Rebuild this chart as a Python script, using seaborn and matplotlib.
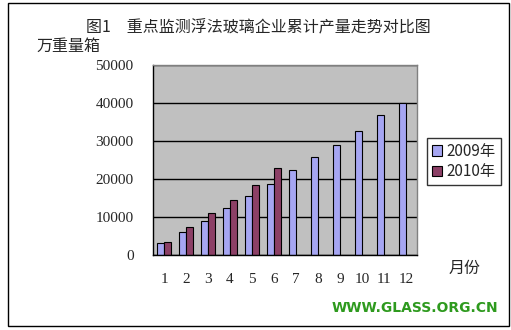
import numpy as np
import pandas as pd
import seaborn as sns
import matplotlib.pyplot as plt
from matplotlib.patches import Rectangle

months = [str(i) for i in range(1, 13)]
y2009 = [3060, 5960, 9050, 12300, 15460, 18800, 22320, 25670, 28840, 32600, 36750, 39920]
y2010 = [3500, 7280, 10980, 14400, 18360, 22850, np.nan, np.nan, np.nan, np.nan, np.nan, np.nan]
series = ["2009年", "2010年"]
yticks = [0, 10000, 20000, 30000, 40000, 50000]

df = pd.DataFrame({
    "month": months * 2,
    "value": y2009 + y2010,
    "year": [series[0]] * 12 + [series[1]] * 12,
})

sns.set_style("white")
plt.rcParams['font.family'] = ['Noto Sans CJK SC', 'DejaVu Sans']

fig = plt.figure(figsize=(5.11, 3.30), dpi=100)
fig.patch.set_facecolor("white")
# outer chart border
fig.add_artist(Rectangle((8 / 511, 4 / 330), 501 / 511, 323 / 330, transform=fig.transFigure,
                         fill=False, edgecolor="black", linewidth=1.0))

ax = fig.add_axes([153 / 511, 75 / 330, 264 / 511, 190 / 330])
ax.set_facecolor("#C0C0C0")
sns.barplot(data=df, x="month", y="value", hue="year", order=months, hue_order=series,
            palette=["#9999FF", "#993366"], width=0.6, edgecolor="black", linewidth=0.8,
            ax=ax, legend=True)
ax.set_ylim(0, 50000)
ax.set_xlim(-0.5, 11.5)
ax.set_yticks(yticks)
ax.set_yticklabels([str(v) for v in yticks], family=['Liberation Serif'], fontsize=11)
ax.set_xticks(range(12))
ax.set_xticklabels(months, family=['Liberation Serif'], fontsize=11)
ax.tick_params(axis='x', length=0, pad=13)
ax.tick_params(axis='y', length=0, pad=14)
ax.set_xticks(np.arange(-0.5, 12, 1), minor=True)
ax.tick_params(axis='x', which='minor', length=3, direction='in', color='black')
ax.grid(axis='y', color='black', linewidth=1.0)
ax.set_axisbelow(True)
ax.set_xlabel("")
ax.set_ylabel("")
for s in ["top", "right"]:
    ax.spines[s].set_color("#808080")
for s in ["left", "bottom"]:
    ax.spines[s].set_color("black")
for s in ax.spines.values():
    s.set_linewidth(1.0)

leg = ax.legend(loc="upper left", bbox_to_anchor=(427 / 511, 1 - 138 / 330), bbox_transform=fig.transFigure,
                frameon=True, fancybox=False, edgecolor="black", fontsize=11,
                handlelength=0.7, handleheight=0.7, handletextpad=0.3, borderpad=0.3,
                labelspacing=0.25, borderaxespad=0)
leg.get_frame().set_linewidth(1.0)
leg.set_title(None)

fig.text(258 / 511, 1 - 27 / 330, "图1　重点监测浮法玻璃企业累计产量走势对比图", ha="center", va="center", fontsize=11.5)
fig.text(36 / 511, 1 - 46 / 330, "万重量箱", ha="left", va="center", fontsize=11.5)
fig.text(465 / 511, 1 - 268 / 330, "月份", ha="center", va="center", fontsize=11.5)
fig.text(498 / 511, 1 - 308 / 330, "WWW.GLASS.ORG.CN", ha="right", va="center", fontsize=10,
         fontweight="heavy", color="#2E9A1E", family=["DejaVu Sans"])

fig.savefig("out.png", dpi=100)
